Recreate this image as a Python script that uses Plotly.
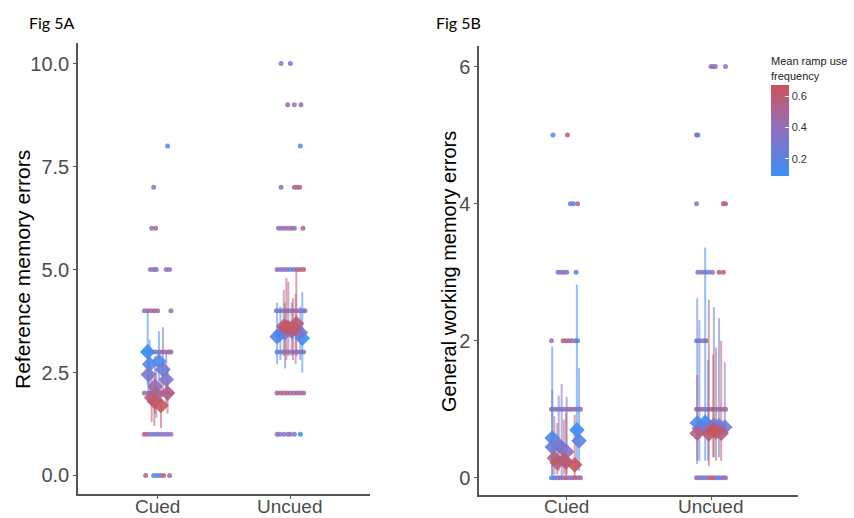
import plotly.graph_objects as go
from plotly.colors import sample_colorscale

# ---------------- data ----------------
categories = ["Cued", "Uncued"]
cmin, cmax = 0.09, 0.67
colorscale = [[0.0, "#3A8EF6"], [0.5, "#9070C0"], [1.0, "#CB5558"]]

# Panel A (Reference memory errors) raw trial dots
A_cued_dot_y = [8, 7, 6, 6, 5, 5, 5, 5, 5, 4, 4, 4, 4, 4, 4,
                3, 3, 3, 3, 3, 3, 3, 3, 3, 2, 2, 2, 2, 2, 2, 2, 2, 2,
                1, 1, 1, 1, 1, 1, 1, 1, 1, 0, 0, 0, 0, 0, 0]
A_cued_dot_jit = [0.075, -0.03, -0.045, -0.015, -0.055, -0.03, -0.01, 0.065, 0.09,
                  -0.1, -0.075, -0.05, -0.025, 0.0, 0.1,
                  -0.09, -0.065, -0.04, -0.015, 0.01, 0.035, 0.06, 0.085, 0.1,
                  -0.1, -0.07, -0.045, -0.02, 0.005, 0.03, 0.055, 0.08, 0.1,
                  -0.1, -0.075, -0.05, -0.025, 0.0, 0.025, 0.05, 0.075, 0.1,
                  -0.09, -0.03, -0.005, 0.02, 0.045, 0.09]
A_cued_dot_f = [0.15, 0.35, 0.4, 0.5, 0.35, 0.45, 0.3, 0.35, 0.4,
                0.35, 0.45, 0.5, 0.55, 0.45, 0.4,
                0.1, 0.3, 0.25, 0.5, 0.35, 0.55, 0.45, 0.6, 0.4,
                0.45, 0.3, 0.6, 0.4, 0.5, 0.35, 0.55, 0.3, 0.45,
                0.6, 0.45, 0.3, 0.35, 0.25, 0.4, 0.3, 0.35, 0.4,
                0.55, 0.2, 0.15, 0.3, 0.6, 0.4]

A_unc_dot_y = [10, 10, 9, 9, 9, 8, 7, 7, 7, 7, 6, 6, 6, 6, 6, 6, 6,
               5, 5, 5, 5, 5, 5, 5, 5, 5, 4, 4, 4, 4, 4, 4, 4, 4, 4, 4,
               3, 3, 3, 3, 3, 3, 3, 3, 3, 2, 2, 2, 2, 2, 2, 2, 2, 2,
               1, 1, 1, 1, 1, 1, 1]
A_unc_dot_jit = [-0.07, 0.0, -0.02, 0.03, 0.08, 0.075, -0.07, 0.03, 0.05, 0.07,
                 -0.09, -0.065, -0.04, -0.015, 0.01, 0.03, 0.095,
                 -0.1, -0.075, -0.05, -0.025, 0.0, 0.025, 0.05, 0.075, 0.1,
                 -0.105, -0.08, -0.055, -0.03, -0.005, 0.02, 0.045, 0.07, 0.095, 0.11,
                 -0.1, -0.075, -0.05, -0.025, 0.0, 0.025, 0.05, 0.075, 0.1,
                 -0.1, -0.075, -0.05, -0.025, 0.0, 0.025, 0.05, 0.075, 0.1,
                 -0.1, -0.08, -0.05, -0.02, 0.0, 0.03, 0.075]
A_unc_dot_f = [0.35, 0.3, 0.45, 0.4, 0.45, 0.15, 0.4, 0.55, 0.5, 0.6,
               0.4, 0.35, 0.45, 0.4, 0.5, 0.4, 0.55,
               0.45, 0.3, 0.4, 0.35, 0.2, 0.25, 0.5, 0.6, 0.55,
               0.35, 0.3, 0.45, 0.3, 0.4, 0.3, 0.35, 0.4, 0.3, 0.45,
               0.3, 0.25, 0.4, 0.3, 0.35, 0.45, 0.3, 0.35, 0.4,
               0.55, 0.5, 0.45, 0.55, 0.4, 0.5, 0.55, 0.45, 0.5,
               0.3, 0.35, 0.45, 0.3, 0.4, 0.25, 0.1]

# Panel A subject means (diamonds) with error bar limits
A_subj_f = [0.09, 0.18, 0.14, 0.25, 0.3, 0.33, 0.42, 0.55, 0.6, 0.5, 0.65, 0.62]
A_cued_jit = [-0.075, -0.06, 0.01, 0.04, -0.07, 0.065, -0.02, 0.075, -0.045, -0.01, 0.025, -0.025]
A_cued_mean = [3.0, 2.7, 2.77, 2.57, 2.45, 2.33, 2.16, 2.0, 1.89, 1.97, 1.7, 1.8]
A_cued_lo = [2.2, 2.0, 2.1, 1.9, 1.8, 1.7, 1.5, 1.5, 1.3, 1.4, 1.15, 1.2]
A_cued_hi = [4.0, 3.3, 3.5, 3.6, 3.0, 3.0, 2.9, 2.6, 2.5, 2.6, 2.3, 2.4]
A_unc_jit = [0.09, -0.1, -0.075, -0.04, 0.075, 0.01, 0.04, -0.05, 0.045, -0.015, -0.03, 0.02]
A_unc_mean = [3.33, 3.37, 3.45, 3.47, 3.47, 3.5, 3.55, 3.62, 3.69, 3.59, 3.6, 3.55]
A_unc_lo = [2.5, 2.7, 2.8, 2.6, 2.8, 2.9, 2.7, 2.9, 2.9, 2.9, 2.8, 2.8]
A_unc_hi = [4.45, 4.2, 4.1, 4.2, 4.1, 4.2, 4.4, 4.5, 5.0, 4.7, 4.8, 4.3]

# Panel B (General working memory errors) raw trial dots
B_cued_dot_y = [5, 5, 4, 4, 4, 3, 3, 3, 3, 3, 2, 2, 2, 2, 2, 2, 2,
                1, 1, 1, 1, 1, 1, 1, 1, 1, 1, 1,
                0, 0, 0, 0, 0, 0, 0, 0, 0, 0, 0]
B_cued_dot_jit = [-0.09, 0.01, 0.03, 0.05, 0.08,
                  -0.055, -0.035, -0.015, 0.005, 0.07,
                  -0.1, -0.02, 0.0, 0.02, 0.04, 0.065, 0.08,
                  -0.1, -0.08, -0.06, -0.04, -0.02, 0.0, 0.02, 0.04, 0.06, 0.08, 0.1,
                  -0.1, -0.08, -0.06, -0.04, -0.02, 0.0, 0.02, 0.04, 0.06, 0.08, 0.1]
B_cued_dot_f = [0.12, 0.6, 0.15, 0.2, 0.6,
                0.35, 0.3, 0.4, 0.35, 0.15,
                0.4, 0.6, 0.55, 0.5, 0.45, 0.4, 0.15,
                0.5, 0.35, 0.3, 0.45, 0.2, 0.35, 0.6, 0.3, 0.5, 0.4, 0.45,
                0.15, 0.2, 0.3, 0.45, 0.35, 0.6, 0.4, 0.35, 0.55, 0.45, 0.5]

B_unc_dot_y = [6, 6, 6, 6, 5, 5, 4, 4, 4, 3, 3, 3, 3, 3, 3, 3, 2, 2, 2, 2,
               1, 1, 1, 1, 1, 1, 1, 1, 1, 1, 1,
               0, 0, 0, 0, 0, 0, 0, 0, 0, 0, 0]
B_unc_dot_jit = [0.0, 0.015, 0.03, 0.1, -0.1, -0.09, -0.1, 0.085, 0.1,
                 -0.09, -0.065, -0.04, -0.015, 0.01, 0.055, 0.085,
                 -0.1, -0.08, -0.055, -0.035,
                 -0.1, -0.08, -0.06, -0.04, -0.02, 0.0, 0.02, 0.04, 0.06, 0.08, 0.1,
                 -0.1, -0.08, -0.06, -0.04, -0.02, 0.0, 0.02, 0.04, 0.06, 0.08, 0.1]
B_unc_dot_f = [0.4, 0.35, 0.4, 0.35, 0.6, 0.15, 0.38, 0.55, 0.6,
               0.35, 0.4, 0.3, 0.35, 0.3, 0.55, 0.6,
               0.3, 0.6, 0.15, 0.55,
               0.6, 0.4, 0.55, 0.35, 0.5, 0.45, 0.6, 0.4, 0.5, 0.45, 0.55,
               0.35, 0.4, 0.3, 0.15, 0.5, 0.65, 0.6, 0.3, 0.1, 0.4, 0.45]

# Panel B subject means (diamonds) with error bar limits
B_subj_f = [0.09, 0.15, 0.2, 0.25, 0.28, 0.3, 0.35, 0.55, 0.6, 0.6, 0.58, 0.65]
B_cued_jit = [0.075, -0.095, 0.09, -0.095, -0.05, -0.03, 0.005, -0.08, -0.015, -0.06, 0.0, 0.06]
B_cued_mean = [0.70, 0.58, 0.54, 0.45, 0.48, 0.44, 0.38, 0.29, 0.26, 0.22, 0.23, 0.19]
B_cued_lo = [0.12, 0.02, 0.1, 0.05, 0.1, 0.0, 0.05, 0.05, 0.05, 0.05, 0.03, 0.0]
B_cued_hi = [2.82, 1.92, 1.6, 1.28, 1.2, 1.37, 1.18, 0.9, 0.85, 0.8, 0.95, 0.92]
B_unc_jit = [-0.04, -0.095, -0.08, 0.02, 0.055, 0.095, -0.02, -0.095, -0.015, 0.035, 0.07, 0.015]
B_unc_mean = [0.81, 0.80, 0.72, 0.77, 0.76, 0.74, 0.72, 0.65, 0.64, 0.67, 0.65, 0.70]
B_unc_lo = [0.25, 0.2, 0.25, 0.3, 0.3, 0.6, 0.25, 0.25, 0.17, 0.25, 0.25, 0.3]
B_unc_hi = [3.36, 2.62, 2.3, 2.49, 2.33, 1.69, 1.72, 1.5, 2.6, 1.9, 2.0, 1.8]

# ---------------- figure ----------------
fig = go.Figure()


def col(f):
    return sample_colorscale(colorscale, [(f - cmin) / (cmax - cmin)])[0]


def add_panel(xa, ya, dots, subj_f, conds, showscale):
    # dots
    for ci, (dy, dj, df) in enumerate(dots):
        fig.add_trace(go.Scatter(
            x=[ci + 1 + j for j in dj], y=dy, mode="markers", xaxis=xa, yaxis=ya,
            marker=dict(size=5, color=df, colorscale=colorscale, cmin=cmin, cmax=cmax,
                        opacity=0.85, line=dict(width=0)),
            showlegend=False, hoverinfo="skip"))
    # error bars
    for ci, (jit, mean, lo, hi) in enumerate(conds):
        for k in range(len(subj_f)):
            xv = ci + 1 + jit[k]
            fig.add_trace(go.Scatter(
                x=[xv, xv], y=[lo[k], hi[k]], mode="lines", xaxis=xa, yaxis=ya,
                line=dict(color=col(subj_f[k]), width=2), opacity=0.55,
                showlegend=False, hoverinfo="skip"))
    # diamonds
    for ci, (jit, mean, lo, hi) in enumerate(conds):
        fig.add_trace(go.Scatter(
            x=[ci + 1 + j for j in jit], y=mean, mode="markers", xaxis=xa, yaxis=ya,
            marker=dict(symbol="diamond", size=12, color=subj_f, colorscale=colorscale,
                        cmin=cmin, cmax=cmax, opacity=0.9, line=dict(width=0),
                        showscale=(showscale and ci == 1),
                        colorbar=dict(
                            x=771 / 854, xanchor="left", y=1 - 54 / 518, yanchor="top",
                            len=122 / 518, lenmode="fraction", thickness=18,
                            outlinewidth=0, xpad=0, ypad=0,
                            tickvals=[0.2, 0.4, 0.6], ticktext=["0.2", "0.4", "0.6"],
                            ticks="inside", ticklen=4, tickcolor="white", tickwidth=1,
                            tickfont=dict(size=11, color="#333333",
                                          family="Liberation Sans, Arial"),
                            title=dict(text="Mean ramp use<br>frequency", side="top",
                                       font=dict(size=11, color="#222222",
                                                 family="Liberation Sans, Arial")))),
            showlegend=False, hoverinfo="skip"))


add_panel("x", "y",
          [(A_cued_dot_y, A_cued_dot_jit, A_cued_dot_f), (A_unc_dot_y, A_unc_dot_jit, A_unc_dot_f)],
          A_subj_f,
          [(A_cued_jit, A_cued_mean, A_cued_lo, A_cued_hi), (A_unc_jit, A_unc_mean, A_unc_lo, A_unc_hi)],
          False)
add_panel("x2", "y2",
          [(B_cued_dot_y, B_cued_dot_jit, B_cued_dot_f), (B_unc_dot_y, B_unc_dot_jit, B_unc_dot_f)],
          B_subj_f,
          [(B_cued_jit, B_cued_mean, B_cued_lo, B_cued_hi), (B_unc_jit, B_unc_mean, B_unc_lo, B_unc_hi)],
          True)

tickfont = dict(size=20, color="#4D4D4D", family="Liberation Sans, Arial")
axis_common = dict(showline=True, linecolor="#555555", linewidth=1.5, showgrid=False,
                   zeroline=False, ticks="outside", ticklen=3, tickcolor="#555555",
                   tickfont=tickfont, automargin=False)

# category labels placed under each x axis, kept inside the page
xlabel_annots = []
for xr in ["x", "x2"]:
    for i, c in enumerate(categories):
        xlabel_annots.append(dict(
            text=c, x=i + 1, y=0, xref=xr, yref="paper", xanchor="center",
            yanchor="bottom", showarrow=False, borderpad=0,
            font=dict(size=19, color="#4D4D4D", family="Liberation Sans, Arial")))

fig.update_layout(
    width=854, height=518, margin=dict(l=0, r=0, t=0, b=0),
    paper_bgcolor="white", plot_bgcolor="white",
    xaxis=dict(domain=[78 / 854, 370 / 854], range=[0.4, 2.6], anchor="y",
               tickvals=[1, 2], showticklabels=False, **axis_common),
    yaxis=dict(domain=[1 - 494 / 518, 1 - 43 / 518], range=[-0.45, 10.5], anchor="x",
               tickvals=[0, 2.5, 5, 7.5, 10], ticktext=["0.0", "2.5", "5.0", "7.5", "10.0"],
               **axis_common),
    xaxis2=dict(domain=[479 / 854, 798 / 854], range=[0.4, 2.6], anchor="y2",
                tickvals=[1, 2], showticklabels=False, **axis_common),
    yaxis2=dict(domain=[1 - 495 / 518, 1 - 46 / 518], range=[-0.25, 6.3], anchor="x2",
                tickvals=[0, 2, 4, 6], ticktext=["0", "2", "4", "6"], **axis_common),
    annotations=xlabel_annots + [
        dict(text="Fig 5A", x=27 / 854, y=1 - 22 / 518, xref="paper", yref="paper",
             xanchor="left", yanchor="middle", showarrow=False,
             font=dict(size=16, color="black", family="Lato, Open Sans")),
        dict(text="Fig 5B", x=434 / 854, y=1 - 22 / 518, xref="paper", yref="paper",
             xanchor="left", yanchor="middle", showarrow=False,
             font=dict(size=16, color="black", family="Lato, Open Sans")),
        dict(text="Reference memory errors", x=22 / 854, y=1 - 270 / 518,
             xref="paper", yref="paper", xanchor="center", yanchor="middle",
             textangle=-90, showarrow=False,
             font=dict(size=21, color="black", family="Liberation Sans, Arial")),
        dict(text="General working memory errors", x=449 / 854, y=1 - 272 / 518,
             xref="paper", yref="paper", xanchor="center", yanchor="middle",
             textangle=-90, showarrow=False,
             font=dict(size=20, color="black", family="Liberation Sans, Arial")),
    ],
)

fig.write_html("out.html")
